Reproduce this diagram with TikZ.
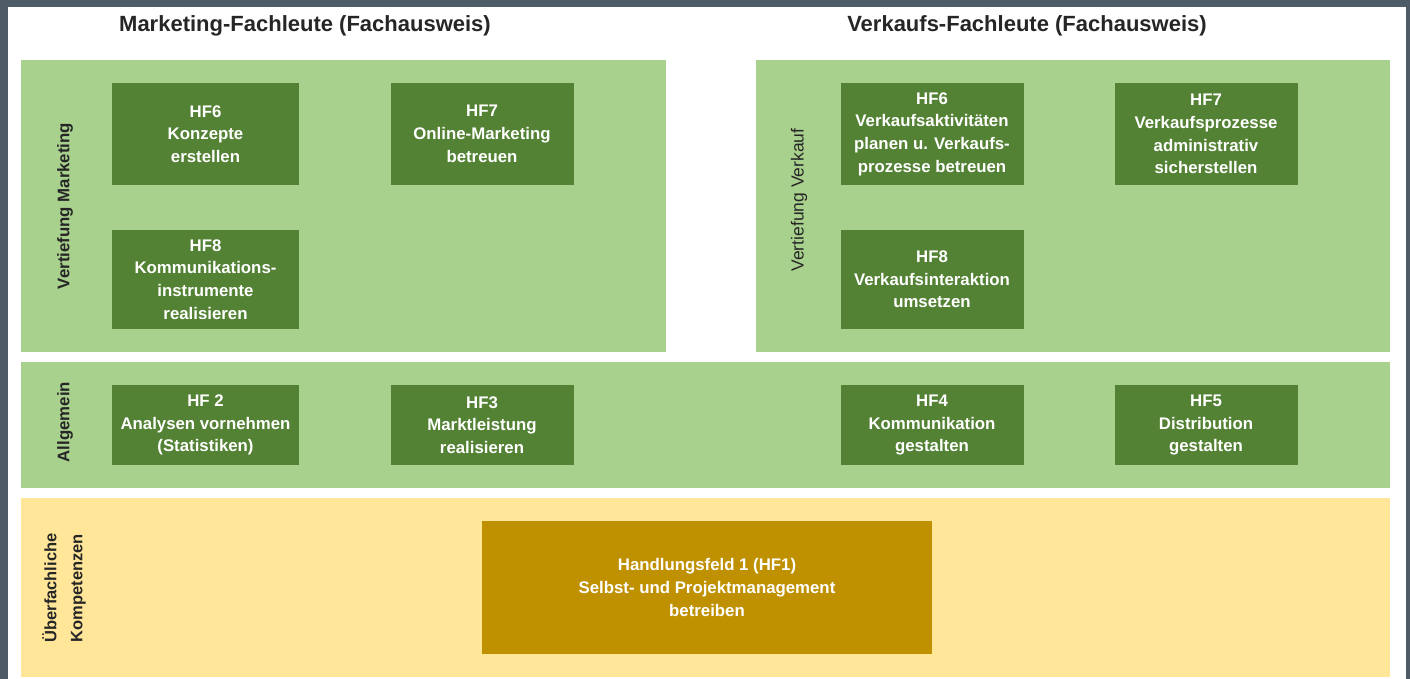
\documentclass[tikz,border=0pt]{standalone}
\usepackage{fontspec}
\setmainfont{Liberation Sans}

\definecolor{framegrey}{HTML}{4E5C68}
\definecolor{panelgreen}{HTML}{A9D18E}
\definecolor{hfgreen}{HTML}{548235}
\definecolor{panelyellow}{HTML}{FFE699}
\definecolor{hfgold}{HTML}{BF9000}
\definecolor{labelgrey}{HTML}{262626}

\begin{document}
\begin{tikzpicture}[x=1pt, y=-1pt,
    hfbox/.style={fill=hfgreen, text=white, font=\bfseries\fontsize{16.8}{22.7}\selectfont,
        align=center, inner sep=0pt, minimum width=183pt, minimum height=102pt},
    sidelabel/.style={rotate=90, text=labelgrey, align=center, inner sep=0pt,
        font=\bfseries\fontsize{16.8}{24}\selectfont},
    headline/.style={text=labelgrey, font=\bfseries\fontsize{22}{24}\selectfont}]

    % Frame and page
    \useasboundingbox (0, 0) rectangle (1410, 679);
    \fill[framegrey] (0, 0) rectangle (1410, 679);
    \fill[white] (8, 7) rectangle (1406, 679);

    % Titles of the two courses
    \node[headline] (titleM) at (305, 26) {Marketing-Fachleute (Fachausweis)};
    \node[headline] (titleV) at (1027, 26) {Verkaufs-Fachleute (Fachausweis)};

    % Draw the bands
    \fill[panelgreen] (21, 60) rectangle (666, 352); % Vertiefung Marketing
    \fill[panelgreen] (756, 60) rectangle (1390, 352); % Vertiefung Verkauf
    \fill[panelgreen] (21, 362) rectangle (1390, 488); % Allgemein
    \fill[panelyellow] (21, 498) rectangle (1390, 677); % Ueberfachlich

    % Labels at the side of the bands
    \node[sidelabel] (lblMarketing) at (65, 206) {Vertiefung Marketing};
    \node[sidelabel, font=\fontsize{17.5}{20}\selectfont] (lblVerkauf) at (799, 200) {Vertiefung Verkauf};
    \node[sidelabel] (lblAllgemein) at (65, 422) {Allgemein};
    \node[sidelabel, font=\bfseries\fontsize{16.5}{26}\selectfont] (lblUeber) at (64, 588) {Überfachliche\\Kompetenzen};

    % Vertiefung Marketing
    \node[hfbox, minimum width=187pt] (mHFsix) at (205.5, 134) {HF6\\Konzepte\\erstellen};
    \node[hfbox] (mHFseven) at (482, 134) {HF7\\Online-Marketing\\betreuen};
    \node[hfbox, minimum width=187pt, minimum height=99pt] (mHFeight) at (205.5, 279.5)
        {HF8\\Kommunikations-\\instrumente\\realisieren};

    % Vertiefung Verkauf
    \node[hfbox] (vHFsix) at (932, 134) {HF6\\Verkaufsaktivitäten\\planen u. Verkaufs-\\prozesse betreuen};
    \node[hfbox] (vHFseven) at (1206, 134) {HF7\\Verkaufsprozesse\\administrativ\\sicherstellen};
    \node[hfbox, minimum height=99pt] (vHFeight) at (932, 279.5) {HF8\\Verkaufsinteraktion\\umsetzen};

    % Allgemein
    \node[hfbox, minimum width=187pt, minimum height=80pt] (HFtwo) at (205.5, 425)
        {HF 2\\Analysen vornehmen\\(Statistiken)};
    \foreach \x/\name/\txt in {482/HFthree/{HF3\\Marktleistung\\realisieren},
                              932/HFfour/{HF4\\Kommunikation\\gestalten},
                              1206/HFfive/{HF5\\Distribution\\gestalten}} {
        \node[hfbox, minimum height=80pt] (\name) at (\x, 425) {\txt};
    }

    % Ueberfachliche Kompetenzen
    \node[hfbox, fill=hfgold, minimum width=450pt, minimum height=133pt] (HFone) at (707, 587.5)
        {Handlungsfeld 1 (HF1)\\Selbst- und Projektmanagement\\betreiben};

\end{tikzpicture}
\end{document}
